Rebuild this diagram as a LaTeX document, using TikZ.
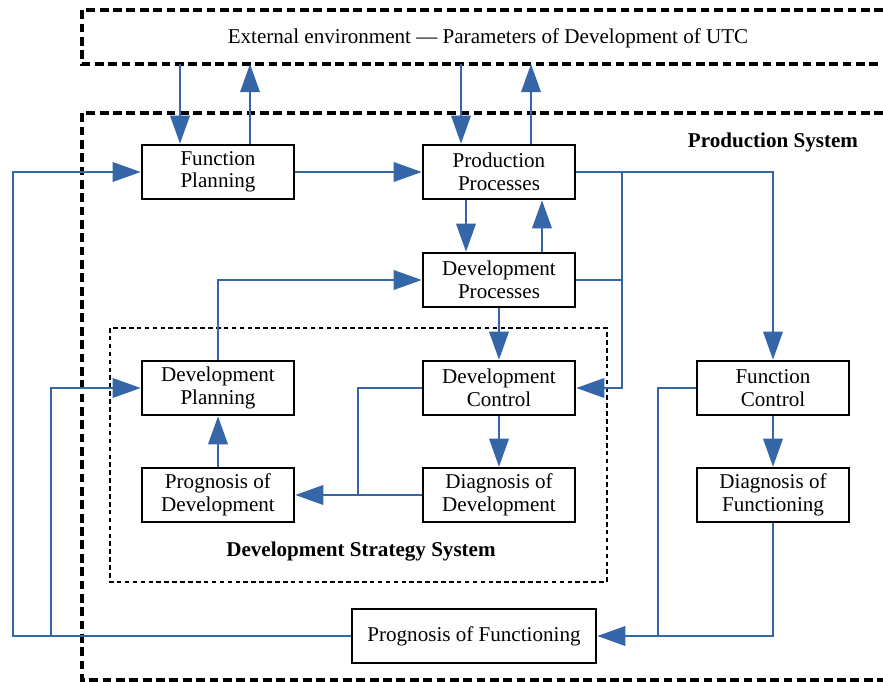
\documentclass[tikz,border=0pt]{standalone}
\usepackage{fontspec}
\setmainfont{Liberation Serif}
\usetikzlibrary{calc,arrows.meta}

\definecolor{flowblue}{RGB}{52,102,168}

\tikzset{
    block/.style={draw, line width=1.4pt, fill=white, minimum width=3.04cm, minimum height=1.08cm, align=center, inner sep=0pt},
    flow/.style={draw=flowblue, line width=1.5pt, -{Triangle[length=16pt,width=11pt]}},
    wire/.style={draw=flowblue, line width=1.5pt},
    outerframe/.style={line width=2.1pt, dash pattern=on 5pt off 2.6pt},
    innerframe/.style={line width=1.4pt, dash pattern=on 2.6pt off 1.9pt}
}

\begin{document}
\begin{tikzpicture}[x=0.02cm, y=-0.02cm, font=\fontsize{12}{12.8}\selectfont]
    \useasboundingbox (0,0) rectangle (883,682);

    % frames
    \draw[outerframe] (883,10) -| (82,64) -- (883,64);
    \draw[outerframe] (883,113) -| (82,680) -- (883,680);
    \draw[innerframe] (110,328) rectangle (607,582);

    \node (env) at (488,38) {External environment — Parameters of Development of UTC};
    \node (prodsys) at (773,142) {\bfseries Production System};
    \node (stratsys) at (361,552) {\bfseries Development Strategy System};

    \node[block] (fp) at (218,172) {Function\\Planning};
    \node[block] (pp) at (499,172) {Production\\Processes};
    \node[block] (dp) at (499,280) {Development\\Processes};
    \node[block] (dpl) at (218,388) {Development\\Planning};
    \node[block] (dc) at (499,388) {Development\\Control};
    \node[block] (pd) at (218,495) {Prognosis of\\Development};
    \node[block] (dd) at (499,495) {Diagnosis of\\Development};
    \node[block] (fc) at (773,388) {Function\\Control};
    \node[block] (df) at (773,495) {Diagnosis of\\Functioning};
    \node[block, minimum width=4.88cm] (pf) at (474,636) {Prognosis of Functioning};

    % bus lines
    \coordinate (envb) at (0,64);
    \coordinate (rbus) at (622,0);
    \coordinate (dcbus) at (358,0);
    \coordinate (fcbus) at (658,0);
    \coordinate (outbus) at (13,0);
    \coordinate (midbus) at (51,0);

    \coordinate (fpin) at ($(fp.north)+(-38,0)$);
    \coordinate (fpout) at ($(fp.north)+(32,0)$);
    \coordinate (ppin) at ($(pp.north)+(-38,0)$);
    \coordinate (ppout) at ($(pp.north)+(32,0)$);
    \coordinate (ppdn) at ($(pp.south)+(-33,0)$);
    \coordinate (dpup) at ($(dp.north)+(43,0)$);

    \draw[flow] (fpin |- envb) -- (fpin);
    \draw[flow] (fpout) -- (fpout |- envb);
    \draw[flow] (ppin |- envb) -- (ppin);
    \draw[flow] (ppout) -- (ppout |- envb);
    \draw[flow] (fp) -- (pp);
    \draw[flow] (ppdn) -- (ppdn |- dp.north);
    \draw[flow] (dpup) -- (dpup |- pp.south);

    \draw[flow] (pp.east) -| (fc.north);
    \draw[flow] (pp.east -| rbus) |- (dc.east);
    \draw[wire] (dp.east) -- (dp.east -| rbus);

    \draw[flow] (dpl.north) |- (dp.west);
    \draw[flow] (dp) -- (dc);
    \draw[flow] (dc) -- (dd);
    \draw[flow] (dd) -- (pd);
    \draw[wire] (dc.west) -| (dcbus |- dd.west);
    \draw[flow] (pd) -- (dpl);

    \draw[flow] (fc) -- (df);
    \draw[flow] (df.south) |- (pf.east);
    \draw[wire] (fc.west) -| (fcbus |- pf.east);

    \draw[flow] (pf.west) -| (outbus |- fp.west) -- (fp.west);
    \draw[flow] (pf.west -| midbus) |- (dpl.west);
\end{tikzpicture}
\end{document}
